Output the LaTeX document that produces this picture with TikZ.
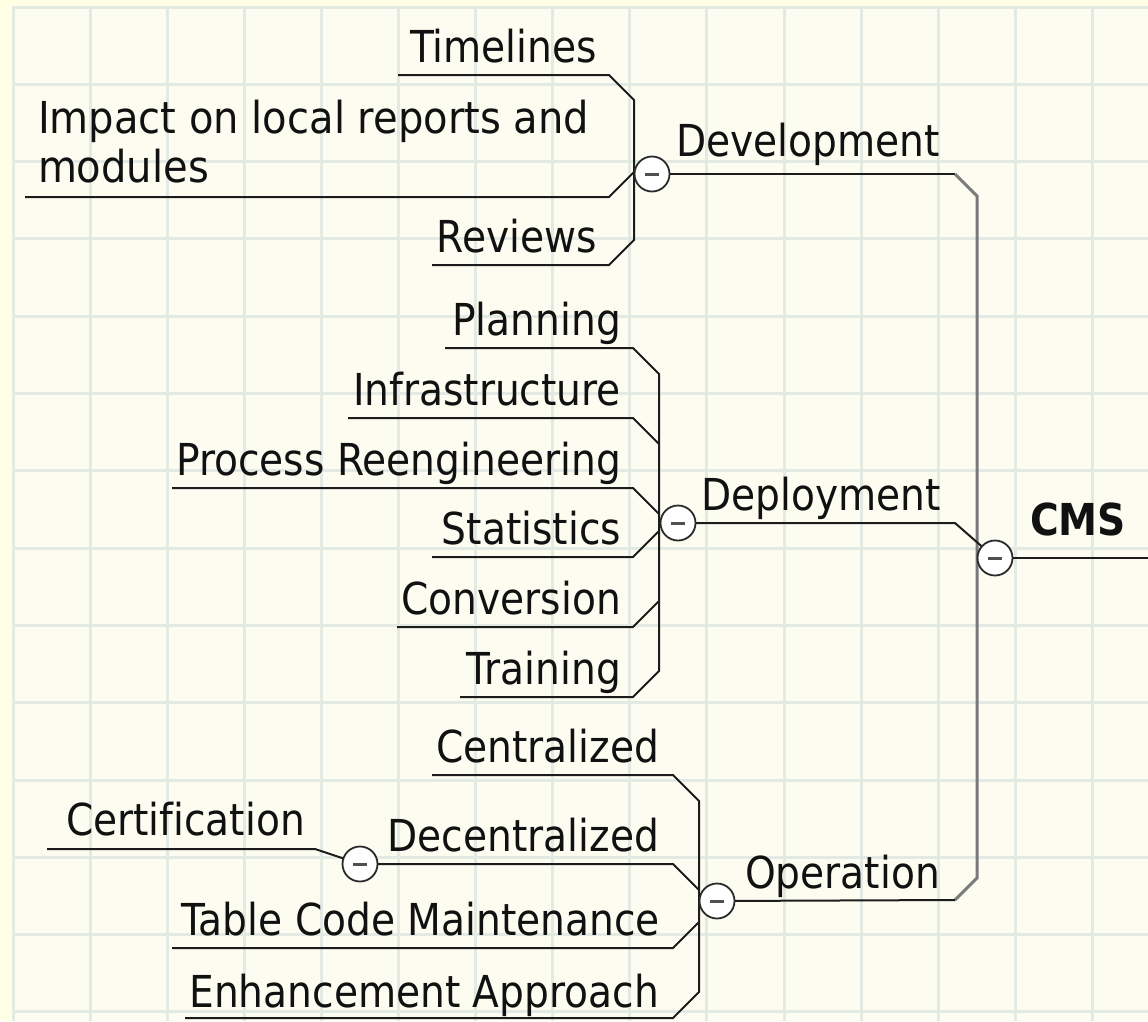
\documentclass[tikz,border=0pt]{standalone}
\usepackage{fontspec}
\setmainfont{DejaVu Sans}[Ligatures=NoCommon]
\usepackage{graphicx}
\definecolor{outerbg}{HTML}{FFFFE3}
\definecolor{innerbg}{HTML}{FCFCF1}
\definecolor{gridc}{HTML}{E3EAE3}
\definecolor{linec}{HTML}{1C1C1C}
\definecolor{rootc}{HTML}{7A7A7A}
\definecolor{knobc}{HTML}{2A2A2A}
\definecolor{minusc}{HTML}{505050}
\definecolor{txtc}{HTML}{111111}
\newcommand{\tx}[1]{\scalebox{0.89}[1]{#1}}
\tikzset{
  lblr/.style={anchor=base east, inner sep=0pt, outer sep=0pt, text=txtc, font=\fontsize{44}{49}\selectfont},
  lbll/.style={anchor=base west, inner sep=0pt, outer sep=0pt, text=txtc, font=\fontsize{44}{49}\selectfont},
  conn/.style={draw=linec, line width=2pt, line join=miter},
  rootline/.style={draw=rootc, line width=3pt},
  gridline/.style={draw=gridc, line width=3pt},
  knob/.style={circle, draw=knobc, line width=1.8pt, fill=white, minimum size=35pt, inner sep=0pt,
    path picture={\draw[line width=3pt, draw=minusc] ([xshift=-7pt]path picture bounding box.center) -- ([xshift=7pt]path picture bounding box.center);}},
}
\begin{document}
\begin{tikzpicture}[x=1pt,y=-1pt]
\useasboundingbox (0,0) rectangle (1148,1021);
% background and grid
\fill[outerbg] (0,0) rectangle (1148,1021);
\fill[innerbg] (12,6) rectangle (1148,1021);
\foreach \k in {0,...,14} { \draw[gridline] ({13+77.1*\k},6) -- ({13+77.1*\k},1021); }
\foreach \k in {0,...,13} { \draw[gridline] (12,{7+77.3*\k}) -- (1148,{7+77.3*\k}); }

% centres of collapse buttons
\coordinate (cdev) at (652,174);
\coordinate (cdep) at (678,523);
\coordinate (cop) at (717,901);
\coordinate (ccms) at (995,558);
\coordinate (cdec) at (360,864);
\coordinate (rightend) at (1148,558);

% root trunk
\draw[conn] (cdev) -- (955,174);
\draw[rootline] (955,174) -- (977,196) -- (977,878) -- (955,900);
\draw[conn] (cop) -- (955,900);
\draw[conn] (cdep) -- (955,523) -- (ccms);
\draw[conn] (ccms) -- (rightend);

% Development children
\draw[conn] (398,75) -- (609,75) -- (634,100) -- (634,240) -- (609,265) -- (432,265);
\draw[conn] (25,197) -- (609,197) -- (634,172);

% Deployment children
\draw[conn] (445,348) -- (633,348) -- (659,374) -- (659,671) -- (633,697) -- (460,697);
\draw[conn] (348,418) -- (633,418) -- (659,444);
\draw[conn] (172,488) -- (633,488) -- (659,514);
\draw[conn] (432,557) -- (633,557) -- (659,531);
\draw[conn] (397,627) -- (633,627) -- (659,601);

% Operation children
\draw[conn] (432,775) -- (673,775) -- (699,801) -- (699,992) -- (673,1018) -- (185,1018);
\draw[conn] (cdec) -- (673,864) -- (699,890);
\draw[conn] (172,948) -- (673,948) -- (699,922);
\draw[conn] (47,849) -- (315,849) -- (cdec);

% buttons
\node[knob] (kdev) at (cdev) {};
\node[knob] (kdep) at (cdep) {};
\node[knob] (kop) at (cop) {};
\node[knob] (kcms) at (ccms) {};
\node[knob] (kdec) at (cdec) {};

% labels
\node[lbll, font=\fontsize{44}{49}\bfseries] (cms) at (1030,535) {\tx{CMS}};
\node[lblr] (dev) at (940,156) {\tx{Development}};
\node[lblr] (dep) at (941,510) {\tx{Deployment}};
\node[lblr] (op) at (940,888) {\tx{Operation}};

\node[lblr] (timel) at (597,62) {\tx{Timelines}};
\node[lbll] (impact) at (38,133) {\scalebox{0.91}[1]{\begin{tabular}[t]{@{}l@{}}Impact on local reports and\\modules\end{tabular}}};
\node[lblr] (rev) at (597,252) {\tx{Reviews}};

\node[lblr] (plan) at (621,335) {\tx{Planning}};
\node[lblr] (infra) at (621,405) {\tx{Infrastructure}};
\node[lblr] (proc) at (621,475) {\tx{Process Reengineering}};
\node[lblr] (stat) at (621,544) {\tx{Statistics}};
\node[lblr] (conv) at (621,614) {\tx{Conversion}};
\node[lblr] (train) at (621,684) {\tx{Training}};

\node[lblr] (cent) at (659,762) {\tx{Centralized}};
\node[lblr] (decent) at (659,851) {\tx{Decentralized}};
\node[lblr] (cert) at (305,835) {\tx{Certification}};
\node[lblr] (table) at (660,935) {\tx{Table Code Maintenance}};
\node[lblr] (enh) at (659,1007) {\tx{Enhancement Approach}};
\end{tikzpicture}
\end{document}
